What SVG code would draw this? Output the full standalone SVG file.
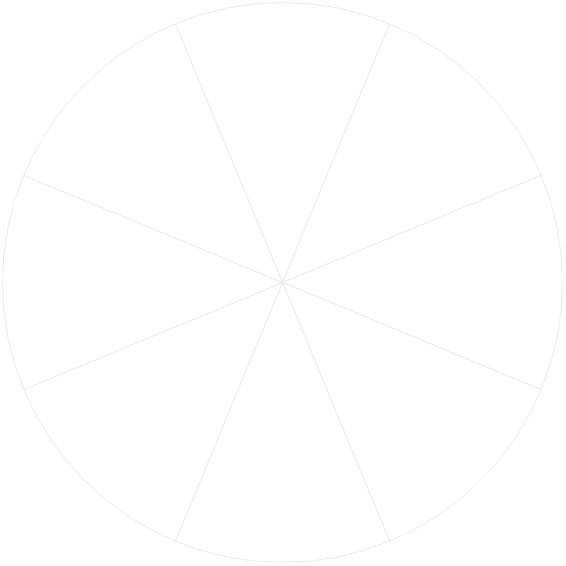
<svg xmlns="http://www.w3.org/2000/svg" width="566" height="566" viewBox="0 0 566 566">
<style>
.s{fill:#ffffff;stroke:#ececec;stroke-width:1}
.c{fill:none;stroke:#e8e8e8;stroke-width:1}
</style>
<rect width="566" height="566" fill="#ffffff"/>
<g id="sectors">
<g id="sector1"><path class="s" d="M282.5,282.5 L175.35,23.81 A280,280 0 0 1 389.65,23.81 Z"/></g>
<g id="sector2"><path class="s" d="M282.5,282.5 L389.65,23.81 A280,280 0 0 1 541.19,175.35 Z"/></g>
<g id="sector3"><path class="s" d="M282.5,282.5 L541.19,175.35 A280,280 0 0 1 541.19,389.65 Z"/></g>
<g id="sector4"><path class="s" d="M282.5,282.5 L541.19,389.65 A280,280 0 0 1 389.65,541.19 Z"/></g>
<g id="sector5"><path class="s" d="M282.5,282.5 L389.65,541.19 A280,280 0 0 1 175.35,541.19 Z"/></g>
<g id="sector6"><path class="s" d="M282.5,282.5 L175.35,541.19 A280,280 0 0 1 23.81,389.65 Z"/></g>
<g id="sector7"><path class="s" d="M282.5,282.5 L23.81,389.65 A280,280 0 0 1 23.81,175.35 Z"/></g>
<g id="sector8"><path class="s" d="M282.5,282.5 L23.81,175.35 A280,280 0 0 1 175.35,23.81 Z"/></g>
</g>
</svg>
